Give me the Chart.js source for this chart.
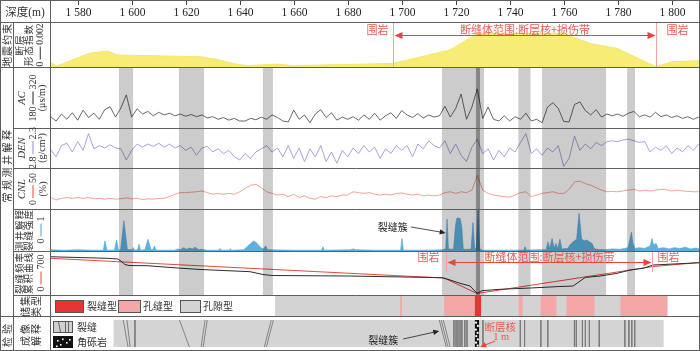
<!DOCTYPE html>
<html>
<head>
<meta charset="utf-8">
<script src="https://cdn.jsdelivr.net/npm/chart.js@4.4.1/dist/chart.umd.min.js"></script>
<style>
  body { margin: 0; background: #fff; }
  #wrap { position: relative; width: 700px; height: 351px; overflow: hidden; font-family: 'Noto Sans CJK SC', sans-serif; color: #333; }
  #wrap canvas { position: absolute; }
  .vl { position: absolute; white-space: nowrap; line-height: 1; transform: translate(-50%, -50%) rotate(-90deg); }
  .hl { position: absolute; white-space: nowrap; line-height: 1; transform: translate(-50%, -50%); }
  .num { font-family: 'Liberation Serif', serif; }
  .it { font-family: 'Liberation Serif', serif; font-style: italic; }
  .ln { display: inline-block; width: 13px; height: 1px; vertical-align: middle; margin: 0 2px; }
</style>
</head>
<body>
<div id="wrap"></div>
<script>
// Fault-zone well log panel (depth track horizontal)

// depth axis
const depthMin = 1569.74;
const depthMax = 1810.48;
const depthTicks = [1580, 1600, 1620, 1640, 1660, 1680, 1700, 1720, 1740, 1760, 1780, 1800];
const depthTickLabels = ['1 580', '1 600', '1 620', '1 640', '1 660', '1 680', '1 700', '1 720', '1 740', '1 760', '1 780', '1 800'];

// seismic fault attribute (0 - 0.002)
const seisDepth = [1569.74, 1572.2, 1584.6, 1590.9, 1594.9, 1625.3, 1631.6, 1637.5, 1642.7, 1653.8, 1659.7, 1696.8, 1717.9, 1728.3, 1759.7, 1769.7, 1779.7, 1794.2, 1800.1, 1810.48];
const seisValue = [0.00022, 0.00004, 0.00062, 0.00071, 0.00053, 0.00046, 0.00034, 0.00016, 0.00006, 0.00013, 0.00006, 0.00016, 0.00076, 0.0015, 0.0015, 0.00105, 0.00083, 0.00001, 0.00024, 0.00028];

// conventional logs sampled every 2 m from 1570 m
const logStart = 1570;
const logStep = 2;
const acValues = [206, 196, 212, 200, 215, 198, 221, 204, 214, 200, 222, 229, 205, 226, 256, 205, 224, 212, 218, 208,
  216, 210, 214, 208, 212, 207, 211, 206, 210, 203, 206, 200, 204, 198, 202, 196, 196, 202, 199, 205,
  200, 210, 204, 196, 194, 221, 200, 210, 192, 212, 222, 204, 215, 198, 205, 200,
  206, 198, 210, 200, 214, 198, 208, 215, 202, 220, 210, 204, 213, 203, 210, 205, 208, 230, 205, 225,
  258, 200, 228, 270, 202, 228, 200, 196, 208, 196, 206, 200, 214, 196, 200, 192, 228, 238, 225, 195,
  194, 234, 240, 220, 210, 222, 205, 212, 208, 212, 207, 214, 218, 206, 210, 205, 216, 206, 210, 204,
  208, 202, 206, 200, 205];
const denValues = [2.575, 2.66, 2.52, 2.49, 2.60, 2.47, 2.58, 2.37, 2.56, 2.52, 2.55, 2.51, 2.55, 2.56, 2.70, 2.58, 2.50, 2.54, 2.50, 2.53,
  2.49, 2.54, 2.50, 2.55, 2.52, 2.58, 2.54, 2.64, 2.55, 2.53, 2.60, 2.56, 2.62, 2.58, 2.66, 2.70, 2.62, 2.68, 2.60, 2.56,
  2.52, 2.60, 2.55, 2.66, 2.52, 2.68, 2.55, 2.72, 2.56, 2.66, 2.52, 2.72, 2.60, 2.74, 2.58, 2.66,
  2.55, 2.62, 2.52, 2.60, 2.54, 2.68, 2.56, 2.62, 2.52, 2.58, 2.52, 2.66, 2.50, 2.56, 2.46, 2.52, 2.55, 2.46, 2.62, 2.50,
  2.64, 2.72, 2.54, 2.44, 2.62, 2.56, 2.70, 2.58, 2.66, 2.55, 2.60, 2.48, 2.37, 2.62, 2.56, 2.64, 2.55, 2.60, 2.52, 2.78,
  2.68, 2.40, 2.58, 2.50, 2.56, 2.48, 2.52, 2.47, 2.46, 2.47, 2.45, 2.44, 2.46, 2.48, 2.47, 2.60, 2.54, 2.58, 2.52, 2.62,
  2.55, 2.60, 2.52, 2.58, 2.50];
const cnlValues = [14, 11, 13, 14, 13, 14, 13, 14, 12.5, 13, 12, 13, 12, 12.5, 13.5, 12.5, 13, 11.5, 12.5, 12,
  13, 13, 15, 18, 20, 20, 20.5, 21, 22, 20, 18, 19, 18, 19, 18, 21, 25, 29, 30, 26,
  21, 19, 17, 18, 15, 18, 14, 16, 13, 12, 15, 14, 16, 15, 17, 17,
  21, 20, 19, 20, 18, 17, 18, 17, 19, 19.5, 18, 17, 18, 16, 17, 16, 17, 20, 21, 19,
  21, 20, 23, 41, 23, 19, 17, 16, 15, 14.5, 17, 20, 21, 15, 17, 19, 20, 21, 19, 19,
  24, 33, 34, 31, 29, 26, 23, 21, 21.5, 21, 22, 23, 24, 22, 23, 22, 23, 24, 23.5, 22,
  23, 22, 21.5, 21, 21];

// log-interpreted fracture intensity (0 - 1)
const intensDepth = [1570, 1575, 1580, 1585, 1589.5, 1590.1, 1590.8, 1593.6, 1594.4, 1595.1, 1595.9, 1597.1, 1598.4, 1600.2, 1600.6, 1601.0,
  1602.2, 1602.7, 1603.3, 1604.9, 1606.0, 1607.2, 1607.8, 1608.4, 1609, 1616, 1617, 1618, 1619.2, 1620.3, 1621.5, 1622.5, 1623.5, 1624.8,
  1626, 1628, 1632.2, 1632.7, 1633.3, 1636, 1636.5, 1637, 1641.5, 1643, 1644.5, 1645.2, 1646.5, 1647.8, 1648.8, 1649.6, 1650.3, 1660,
  1670.3, 1670.8, 1671.3, 1681, 1682, 1683, 1690, 1699.6, 1700.1, 1700.6, 1710, 1715, 1716.3, 1716.8, 1717.3, 1719.2, 1719.9, 1720.4,
  1721.6, 1722.2, 1722.8, 1725.7, 1726.4, 1727.0, 1727.6, 1728.3, 1728.9, 1730, 1740, 1745.2, 1745.7, 1746.2, 1750, 1753.5, 1754.2,
  1754.8, 1755.7, 1756.4, 1757.1, 1757.8, 1758.6, 1759.3, 1761.5, 1762.5, 1763.5, 1764.8, 1765.7, 1766.6, 1767.5, 1768.5, 1769.5,
  1770.5, 1771.3, 1772, 1775, 1778, 1781, 1783.8, 1784.6, 1785.1, 1785.6, 1786.3, 1788, 1790, 1792, 1792.7, 1793.3, 1794.2, 1795,
  1797, 1799, 1801, 1803, 1805, 1807, 1809, 1810.48];
const intensValue = [0.03, 0.02, 0.03, 0.02, 0.02, 0.24, 0.02, 0.02, 0.26, 0.02, 0.03, 0.72, 0.03, 0.03, 0.08, 0.02,
  0.03, 0.16, 0.02, 0.03, 0.28, 0.03, 0.03, 0.12, 0.02, 0.02, 0.05, 0.03, 0.08, 0.04, 0.07, 0.05, 0.09, 0.03,
  0.04, 0.02, 0.02, 0.06, 0.02, 0.02, 0.05, 0.02, 0.03, 0.12, 0.2, 0.24, 0.18, 0.08, 0.05, 0.12, 0.03, 0.02,
  0.02, 0.10, 0.02, 0.03, 0.05, 0.03, 0.02, 0.02, 0.30, 0.02, 0.02, 0.03, 0.05, 0.76, 0.05, 0.04, 0.6, 0.78,
  0.78, 0.6, 0.04, 0.04, 0.68, 0.05, 0.06, 1.0, 0.05, 0.02, 0.02, 0.02, 0.1, 0.02, 0.03, 0.03, 0.22,
  0.05, 0.3, 0.06, 0.18, 0.05, 0.28, 0.05, 0.06, 0.16, 0.22, 0.28, 0.9, 0.3, 0.24, 0.26, 0.22,
  0.18, 0.06, 0.04, 0.03, 0.05, 0.04, 0.08, 0.3, 0.45, 0.2, 0.06, 0.08, 0.06, 0.12, 0.3, 0.14, 0.18, 0.06,
  0.08, 0.05, 0.08, 0.06, 0.09, 0.05, 0.07, 0.05];

// fracture frequency cumulative curves (0 - 700)
const cumBlackDepth = [1569.74, 1590.9, 1594.9, 1596.0, 1597.5, 1599.0, 1605.7, 1616.8, 1625.3, 1643.8, 1648.6, 1652.0, 1680.9, 1715.0, 1717.9,
  1721.6, 1725.3, 1727.9, 1729.7, 1736.4, 1747.5, 1758.6, 1763.5, 1768.0, 1773.5, 1779.8, 1784.6, 1789.4, 1793.1, 1810.48];
const cumBlackValue = [609, 584, 573, 541, 485, 469, 466, 430, 406, 371, 326, 310, 302, 275, 239,
  186, 143, 27, 68, 91, 111, 135, 143, 280, 302, 345, 398, 425, 477, 514];
const cumRedDepth = [1569.74, 1715.7, 1727.9, 1793.1, 1810.48];
const cumRedValue = [584, 270, 24, 453, 517];

// grey reservoir bands and fault core
const bandFrom = [1595.3, 1617.5, 1648.6, 1714.9, 1743.2, 1752.0, 1783.5];
const bandTo = [1600.5, 1626.8, 1652.3, 1730.5, 1747.7, 1775.7, 1786.4];
const faultCore = [1727.5, 1729.0];

// fault-body range annotations
const rangeSeis = [1696.8, 1794.2];
const rangeCum = [1716.4, 1792.7];

// reservoir type row
const resBase = [1653.1, 1798.4];
const resPinkFrom = [1699.4, 1715.7, 1743.3, 1751.4, 1761.0, 1781.0];
const resPinkTo = [1700.1, 1727.1, 1744.8, 1757.3, 1771.4, 1798.4];
const resRedFrom = [1727.1];
const resRedTo = [1729.4];

// core imaging row
const coreBase = [1592.0, 1798.4];
const coreColumn = [1727.5, 1729.2];
const crackTop = [1595.7, 1597.1, 1600.1, 1616.8, 1626.4, 1627.2, 1651.2, 1652.0, 1714.2, 1714.9, 1715.7, 1719.7, 1720.5, 1721.2, 1722.0, 1722.7, 1723.8, 1724.6,
  1730.6, 1744.6, 1746.2, 1752.3, 1754.9, 1764.9, 1765.6, 1767.9, 1769.0, 1770.5, 1774.2, 1783.8, 1785.3, 1786.4, 1787.5];
const crackBottom = [1597.5, 1598.3, 1600.1, 1620.5, 1624.9, 1625.7, 1648.6, 1649.4, 1716.8, 1717.5, 1718.3, 1719.7, 1720.5, 1721.2, 1722.0, 1722.7, 1723.8, 1724.6,
  1730.6, 1744.6, 1746.2, 1752.3, 1754.9, 1764.9, 1765.6, 1767.9, 1769.0, 1770.5, 1774.2, 1783.8, 1785.3, 1786.4, 1787.5];
const brecciaDepth = [1728.0, 1728.7, 1727.9, 1728.6, 1728.1, 1728.7, 1728.0, 1728.6];
const brecciaLevel = [0.9, 0.78, 0.64, 0.52, 0.4, 0.28, 0.16, 0.05];

const CJK = '"Noto Sans CJK SC"';
const wrap = document.getElementById('wrap');

const logPoints = vals => vals.map((v, i) => ({ x: logStart + logStep * i, y: v }));
const pairPoints = (xs, ys) => xs.map((d, i) => ({ x: d, y: ys[i] }));
const rectPoints = r => [{ x: r[0], y: 1 }, { x: r[1], y: 1 }];

function makeCanvas(top, height) {
    const c = document.createElement('canvas');
    c.width = 650;
    c.height = height;
    c.style.left = '50px';
    c.style.top = top + 'px';
    c.style.width = '650px';
    c.style.height = height + 'px';
    wrap.appendChild(c);
    return c;
}

function panel(top, height, datasets, yOpts, plugins) {
    return new Chart(makeCanvas(top, height), {
        type: 'line',
        data: { datasets },
        options: {
            responsive: false,
            animation: false,
            devicePixelRatio: 1,
            layout: { padding: 0 },
            plugins: { legend: { display: false }, tooltip: { enabled: false } },
            elements: { point: { radius: 0 }, line: { borderWidth: 1, tension: 0 } },
            scales: {
                x: { type: 'linear', min: depthMin, max: depthMax, display: false },
                y: Object.assign({ type: 'linear', display: false }, yOpts)
            }
        },
        plugins: plugins || []
    });
}

function arrow(ctx, x0, y0, x1, y1, size) {
    const a = Math.atan2(y1 - y0, x1 - x0);
    ctx.beginPath();
    ctx.moveTo(x0, y0);
    ctx.lineTo(x1 - Math.cos(a) * size * 0.8, y1 - Math.sin(a) * size * 0.8);
    ctx.stroke();
    ctx.beginPath();
    ctx.moveTo(x1, y1);
    ctx.lineTo(x1 - size * Math.cos(a) + size * 0.45 * Math.sin(a), y1 - size * Math.sin(a) - size * 0.45 * Math.cos(a));
    ctx.lineTo(x1 - size * Math.cos(a) - size * 0.45 * Math.sin(a), y1 - size * Math.sin(a) + size * 0.45 * Math.cos(a));
    ctx.closePath();
    ctx.fill();
}

// grey reservoir bands, multiplied over the curves
const bandsPlugin = {
    id: 'bands',
    afterDatasetsDraw(chart) {
        const { ctx, chartArea: a, scales: { x } } = chart;
        ctx.save();
        ctx.globalCompositeOperation = 'multiply';
        ctx.fillStyle = '#cccccc';
        bandFrom.forEach((f, i) => {
            const x0 = x.getPixelForValue(f), x1 = x.getPixelForValue(bandTo[i]);
            ctx.fillRect(x0, a.top, x1 - x0, a.bottom - a.top);
        });
        ctx.fillStyle = '#a9a9a9';
        const c0 = x.getPixelForValue(faultCore[0]), c1 = x.getPixelForValue(faultCore[1]);
        ctx.fillRect(c0, a.top, c1 - c0, a.bottom - a.top);
        ctx.restore();
    }
};

function rangePlugin(range, lineBottom, arrowY, textY, offL, offR) {
    return {
        id: 'range',
        afterDraw(chart) {
            const { ctx, scales: { x } } = chart;
            const x0 = Math.round(x.getPixelForValue(range[0])) + 0.5;
            const x1 = Math.round(x.getPixelForValue(range[1])) + 0.5;
            ctx.save();
            ctx.lineWidth = 1;
            ctx.strokeStyle = '#f3a1a1';
            ctx.beginPath();
            ctx.moveTo(x0, 0); ctx.lineTo(x0, lineBottom);
            ctx.moveTo(x1, 0); ctx.lineTo(x1, lineBottom);
            ctx.stroke();
            ctx.strokeStyle = '#e8453b';
            ctx.fillStyle = '#e8453b';
            const ay = arrowY + 0.5;
            arrow(ctx, (x0 + x1) / 2, ay, x0 + 1, ay, 8);
            arrow(ctx, (x0 + x1) / 2, ay, x1 - 1, ay, 8);
            ctx.fillStyle = '#ea5c52';
            ctx.font = '11px ' + CJK;
            ctx.textAlign = 'center';
            ctx.textBaseline = 'middle';
            ctx.fillText('围岩', x0 + offL, textY);
            ctx.fillText('断缝体范围:断层核+损伤带', (x0 + x1) / 2, textY);
            ctx.fillText('围岩', x1 + offR, textY);
            ctx.restore();
        }
    };
}

// depth header
const depthAxis = {
    id: 'depthAxis',
    afterDraw(chart) {
        const { ctx, scales: { x } } = chart;
        ctx.save();
        ctx.strokeStyle = '#444';
        ctx.fillStyle = '#222';
        ctx.lineWidth = 1;
        ctx.font = '11.5px "Liberation Serif"';
        ctx.textAlign = 'center';
        ctx.textBaseline = 'middle';
        depthTicks.forEach((t, i) => {
            const px = Math.round(x.getPixelForValue(t)) + 0.5;
            ctx.beginPath();
            ctx.moveTo(px, 0);
            ctx.lineTo(px, 5);
            ctx.stroke();
            ctx.fillText(depthTickLabels[i], px, 13);
        });
        ctx.restore();
    }
};
panel(0, 22, [], { min: 0, max: 1 }, [depthAxis]);

// seismic constraint
panel(22, 45, [{
    data: pairPoints(seisDepth, seisValue),
    borderColor: '#f3e86c',
    backgroundColor: '#f6ec76',
    borderWidth: 1,
    fill: 'origin'
}], { min: 0, max: 0.002 }, [rangePlugin(rangeSeis, 45, 13, 8, -16, 21)]);

// AC
panel(67, 61, [{
    data: logPoints(acValues),
    borderColor: '#444',
    borderWidth: 0.8
}], { min: 180, max: 320 }, [bandsPlugin]);

// DEN
panel(128, 40, [{
    data: logPoints(denValues),
    borderColor: '#8e8ed2',
    borderWidth: 0.8
}], { min: 2.3, max: 2.8, reverse: true }, [bandsPlugin]);

// CNL
panel(168, 41, [{
    data: logPoints(cnlValues),
    borderColor: '#f0998a',
    borderWidth: 0.9
}], { min: 0, max: 50 }, [bandsPlugin]);

// fracture intensity
const clusterNote = {
    id: 'clusterNote',
    afterDraw(chart) {
        const { ctx, scales: { x, y } } = chart;
        const tx = x.getPixelForValue(1716.3), ty = y.getPixelForValue(0.43);
        ctx.save();
        ctx.strokeStyle = '#222';
        ctx.fillStyle = '#222';
        ctx.lineWidth = 0.8;
        arrow(ctx, tx - 35, ty - 6, tx, ty, 6);
        ctx.font = '10px ' + CJK;
        ctx.textAlign = 'center';
        ctx.textBaseline = 'middle';
        ctx.fillText('裂缝簇', tx - 53, ty - 6);
        ctx.restore();
    }
};
panel(209, 42, [{
    data: pairPoints(intensDepth, intensValue),
    borderColor: '#4aa2d6',
    backgroundColor: '#5cb1e0',
    borderWidth: 0.6,
    fill: 'origin'
}], { min: 0, max: 1 }, [bandsPlugin, clusterNote]);

// cumulative fracture frequency
panel(251, 44, [
    { data: pairPoints(cumBlackDepth, cumBlackValue), borderColor: '#2e2e2e', borderWidth: 1 },
    { data: pairPoints(cumRedDepth, cumRedValue), borderColor: '#e8483e', borderWidth: 1 }
], { min: 0, max: 700 }, [bandsPlugin, rangePlugin(rangeCum, 21, 11, 6, -18, 16)]);

// reservoir type
const resLegend = {
    id: 'resLegend',
    afterDraw(chart) {
        const ctx = chart.ctx;
        const items = [
            ['#e53530', 5.5, 28, '裂缝型', 37],
            ['#f5a6a6', 68.5, 22, '孔缝型', 93],
            ['#d3d3d3', 130.5, 20, '孔隙型', 153]
        ];
        ctx.save();
        ctx.lineWidth = 1;
        ctx.strokeStyle = '#555';
        ctx.font = '10px ' + CJK;
        ctx.textBaseline = 'middle';
        items.forEach(([c, bx, bw, label, lx]) => {
            ctx.fillStyle = c;
            ctx.fillRect(bx, 5.5, bw, 12);
            ctx.strokeRect(bx, 5.5, bw, 12);
            ctx.fillStyle = '#333';
            ctx.fillText(label, lx, 11.5);
        });
        ctx.restore();
    }
};
new Chart(makeCanvas(295, 21), {
    type: 'bar',
    data: {
        labels: ['r'],
        datasets: [
            { data: resRedFrom.map((f, i) => ({ x: [f, resRedTo[i]], y: 'r' })), backgroundColor: '#e6352f' },
            { data: resPinkFrom.map((f, i) => ({ x: [f, resPinkTo[i]], y: 'r' })), backgroundColor: '#f5a7a7' },
            { data: [{ x: resBase, y: 'r' }], backgroundColor: '#d3d3d3' }
        ]
    },
    options: {
        indexAxis: 'y',
        responsive: false,
        animation: false,
        devicePixelRatio: 1,
        layout: { padding: 0 },
        plugins: { legend: { display: false }, tooltip: { enabled: false } },
        datasets: { bar: { grouped: false, barPercentage: 1, categoryPercentage: 1, borderWidth: 0, inflateAmount: 0 } },
        scales: {
            x: { type: 'linear', min: depthMin, max: depthMax, display: false },
            y: { display: false }
        }
    },
    plugins: [resLegend]
});

// core imaging interpretation
const crackPoints = [];
crackTop.forEach((t, i) => {
    crackPoints.push({ x: t, y: 1 }, { x: crackBottom[i], y: 0 }, { x: t, y: null });
});
const coreNotes = {
    id: 'coreNotes',
    afterDraw(chart) {
        const { ctx, scales: { x } } = chart;
        ctx.save();
        // legend
        ctx.lineWidth = 1;
        ctx.strokeStyle = '#555';
        ctx.fillStyle = '#d0d0d0';
        ctx.fillRect(3.5, 5.5, 19, 11);
        ctx.strokeRect(3.5, 5.5, 19, 11);
        ctx.strokeStyle = '#666';
        ctx.beginPath();
        ctx.moveTo(8.5, 6); ctx.lineTo(10.5, 16);
        ctx.moveTo(15.5, 6); ctx.lineTo(15.5, 16);
        ctx.moveTo(18.5, 6); ctx.lineTo(18.5, 16);
        ctx.stroke();
        ctx.fillStyle = '#111';
        ctx.fillRect(3, 20, 20, 12);
        ctx.fillStyle = '#fff';
        [[7, 24], [12, 22.5], [16, 26], [10, 28], [19, 23], [6, 29.5]].forEach(([px, py]) => ctx.fillRect(px, py, 1.6, 1.6));
        ctx.fillStyle = '#333';
        ctx.font = '10px ' + CJK;
        ctx.textBaseline = 'middle';
        ctx.fillText('裂缝', 27, 11);
        ctx.fillText('角砾岩', 27, 26);
        // fault core note
        const cx = x.getPixelForValue(coreColumn[1]);
        ctx.fillStyle = '#ea5c52';
        ctx.strokeStyle = '#e8453b';
        ctx.textAlign = 'center';
        ctx.font = '10.5px ' + CJK;
        ctx.fillText('断层核', cx + 21, 11);
        ctx.font = '10.5px "Liberation Serif"';
        ctx.fillText('1 m', cx + 22, 21.5);
        ctx.fillStyle = '#e8453b';
        arrow(ctx, cx + 16, 25, cx + 1, 31, 6);
        // fracture cluster note
        const kx = x.getPixelForValue(crackTop[8]);
        ctx.strokeStyle = '#222';
        ctx.fillStyle = '#222';
        ctx.lineWidth = 0.8;
        arrow(ctx, kx - 36, 23, kx, 15, 6);
        ctx.font = '10px ' + CJK;
        ctx.fillText('裂缝簇', kx - 56, 24);
        ctx.restore();
    }
};
panel(316, 35, [
    { data: pairPoints(brecciaDepth, brecciaLevel), showLine: false, pointRadius: 1.1, pointBackgroundColor: '#fff', pointBorderWidth: 0 },
    { data: rectPoints(coreColumn), borderWidth: 0, backgroundColor: '#111', fill: 'origin' },
    { data: crackPoints, borderColor: '#7a7a7a', borderWidth: 0.9, spanGaps: false },
    { data: rectPoints(coreBase), borderWidth: 0, backgroundColor: '#d4d4d4', fill: 'origin' }
], { min: 0, max: 1 }, [coreNotes]);

// frame lines
const frame = document.createElement('canvas');
frame.width = 700;
frame.height = 351;
frame.style.left = '0px';
frame.style.top = '0px';
wrap.appendChild(frame);
const fc = frame.getContext('2d');
fc.strokeStyle = '#5e5e5e';
fc.lineWidth = 1;
fc.beginPath();
[[22, 0], [67, 0], [128, 13], [168, 13], [209, 13], [251, 13], [295, 13], [316, 0]].forEach(([y, x0]) => {
    fc.moveTo(x0, y + 0.5);
    fc.lineTo(700, y + 0.5);
});
fc.moveTo(13.5, 22); fc.lineTo(13.5, 351);
fc.moveTo(50.5, 0); fc.lineTo(50.5, 351);
fc.stroke();
fc.strokeRect(0.5, 0.5, 699, 350);

// left-hand labels
function label(html, cx, cy, size, spacing, cls) {
    const d = document.createElement('div');
    d.className = cls || 'vl';
    d.style.left = cx + 'px';
    d.style.top = cy + 'px';
    d.style.fontSize = size + 'px';
    if (spacing) d.style.letterSpacing = spacing + 'px';
    d.innerHTML = html;
    wrap.appendChild(d);
}
const scaleText = (a, b, color) =>
    `<span class="num">${a}</span><span class="ln" style="background:${color}"></span><span class="num">${b}</span>`;

label('深度<span class="num">(m)</span>', 25, 11.5, 11.5, 0, 'hl');
label('地震约束', 7, 44.5, 10, 1);
label('常规测井解释', 7, 165, 10, 2.5);
label('检验', 7, 333.5, 10, 3);

label('断层', 20, 44.5, 9.5, 1);
label('形态指数', 29, 44.5, 9.5, 1);
label(scaleText('0', '0.002', '#333'), 39.5, 44.5, 9.5);

label('<span class="it">AC</span>', 21.5, 97.5, 10.5);
label(scaleText('180', '320', '#222'), 31.5, 97.5, 10);
label('<span class="num">(μs/m)</span>', 41, 97.5, 10);

label('<span class="it">DEN</span>', 21.5, 148, 10.5);
label(scaleText('2.8', '2.3', '#8e8ed2'), 31.5, 148, 10);
label('<span class="num">(g/cm³)</span>', 41, 148, 10);

label('<span class="it">CNL</span>', 21.5, 188.5, 10.5);
label(scaleText('0', '50', '#e8483e'), 32, 188.5, 10);
label('<span class="num">(%)</span>', 41.5, 188.5, 10);

label('测井解释', 19.5, 230, 9.5, 1);
label('裂缝强度', 29, 230, 9.5, 1);
label(scaleText('0', '1', '#4aa2d6'), 39.5, 230, 10);

label('裂缝频率', 19.5, 273, 9.5, 1);
label('累积曲线', 29, 273, 9.5, 1);
label(scaleText('0', '700', '#e8483e'), 39.5, 273, 10);

label('储集', 25, 305.5, 10, 1);
label('类型', 36, 305.5, 10, 1);

label('成像', 25, 333.5, 10, 2);
label('解释', 36, 333.5, 10, 2);
</script>
</body>
</html>
